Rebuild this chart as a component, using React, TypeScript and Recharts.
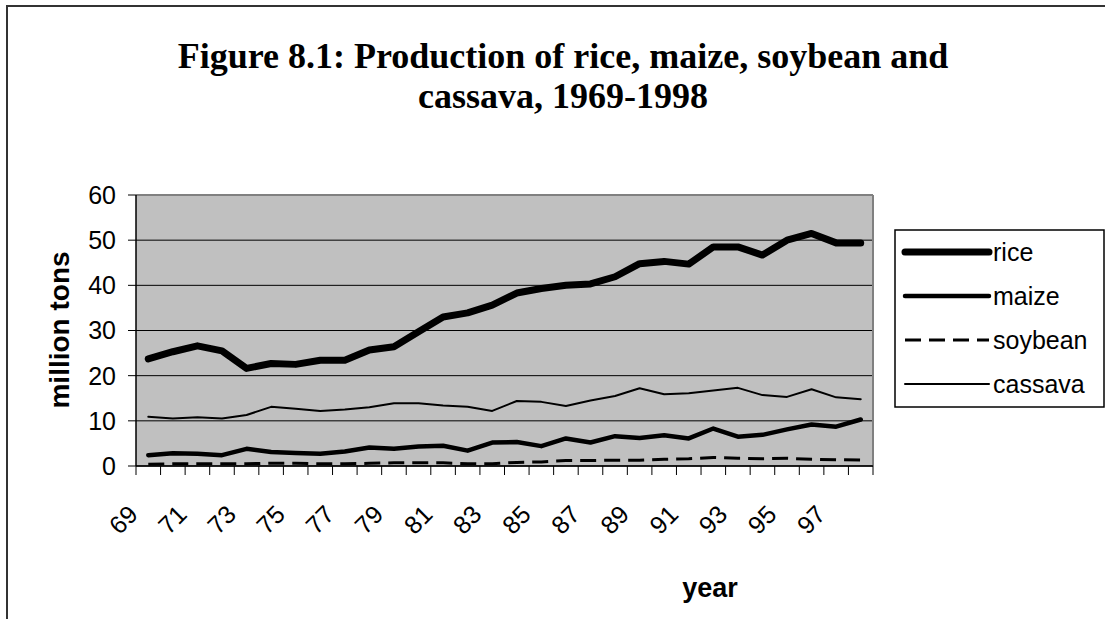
import React from 'react';
import {
  LineChart,
  Line,
  XAxis,
  YAxis,
  CartesianGrid,
  ReferenceLine,
} from 'recharts';

// production in million tons, 1969-1998
const years = [
  69, 70, 71, 72, 73, 74, 75, 76, 77, 78, 79, 80, 81, 82, 83,
  84, 85, 86, 87, 88, 89, 90, 91, 92, 93, 94, 95, 96, 97, 98,
];
const rice = [
  23.7, 25.3, 26.6, 25.5, 21.6, 22.7, 22.5, 23.4, 23.4, 25.7, 26.4, 29.7, 33.0, 33.9, 35.6,
  38.3, 39.3, 40.0, 40.3, 41.9, 44.8, 45.3, 44.7, 48.5, 48.5, 46.7, 50.0, 51.5, 49.4, 49.4,
];
const maize = [
  2.4, 2.8, 2.7, 2.4, 3.8, 3.1, 2.9, 2.7, 3.2, 4.1, 3.8, 4.3, 4.5, 3.4, 5.2,
  5.3, 4.4, 6.1, 5.2, 6.6, 6.2, 6.8, 6.1, 8.3, 6.5, 6.9, 8.1, 9.2, 8.7, 10.3,
];
const soybean = [
  0.4, 0.5, 0.5, 0.5, 0.5, 0.6, 0.6, 0.5, 0.5, 0.6, 0.7, 0.7, 0.7, 0.5, 0.5,
  0.8, 0.9, 1.2, 1.2, 1.3, 1.3, 1.5, 1.6, 1.9, 1.7, 1.6, 1.7, 1.5, 1.4, 1.3,
];
const cassava = [
  10.9, 10.5, 10.8, 10.5, 11.3, 13.1, 12.7, 12.2, 12.5, 13.0, 13.9, 13.9, 13.4, 13.1, 12.2,
  14.4, 14.2, 13.3, 14.5, 15.5, 17.2, 15.9, 16.1, 16.7, 17.3, 15.7, 15.3, 17.0, 15.2, 14.8,
];
const yTicks = [0, 10, 20, 30, 40, 50, 60];

const data = years.map((year, i) => ({
  year,
  rice: rice[i],
  maize: maize[i],
  soybean: soybean[i],
  cassava: cassava[i],
}));

// x ticks sit on the category boundaries, labels in the middle of each year
const xTicks = years.map((y) => y - 0.5).concat(years[years.length - 1] + 0.5);

const series = [
  { key: 'rice', width: 7, dash: undefined },
  { key: 'maize', width: 4.5, dash: undefined },
  { key: 'soybean', width: 3, dash: '16 8' },
  { key: 'cassava', width: 2, dash: undefined },
];

const W = 1105;
const H = 619;
const PLOT_LEFT = 136;
const PLOT_RIGHT = 873;
const HALF_BAND = (PLOT_RIGHT - PLOT_LEFT) / years.length / 2;
const font = '"Liberation Sans", Arial, sans-serif';
const serif = '"Liberation Serif", "Times New Roman", serif';

const YearTick = (props: any) => {
  const { x, y, payload } = props;
  const year = Math.round(payload.value + 0.5);
  if (year % 2 === 0 || year > 97) return null;
  const ax = x + HALF_BAND - 9;
  const ay = y + 39;
  return (
    <text
      x={ax}
      y={ay}
      transform={`rotate(-45 ${ax} ${ay})`}
      textAnchor="end"
      fontSize={25}
      fontFamily={font}
      fill="#000"
    >
      {String(year)}
    </text>
  );
};

const App = () => {
  return (
    <div style={{ position: 'absolute', left: 0, top: 0, width: W, height: H, background: '#fff', overflow: 'hidden' }}>
      <div
        style={{
          position: 'absolute',
          left: 6,
          top: 5,
          width: 1200,
          height: 700,
          borderLeft: '2px solid #333',
          borderTop: '2px solid #333',
        }}
      />
      <div style={{ position: 'absolute', left: 0, top: 0 }}>
        <LineChart
          width={W}
          height={H}
          data={data}
          margin={{ top: 195, right: W - PLOT_RIGHT, bottom: 73, left: 0 }}
        >
          <CartesianGrid
            vertical={false}
            stroke="#000"
            strokeWidth={1}
            fill="#c0c0c0"
            fillOpacity={1}
          />
          <XAxis
            dataKey="year"
            type="number"
            domain={[xTicks[0], xTicks[xTicks.length - 1]]}
            ticks={xTicks}
            interval={0}
            height={80}
            tickSize={9}
            axisLine={{ stroke: '#000', strokeWidth: 1.5 }}
            tickLine={{ stroke: '#000' }}
            tick={<YearTick />}
          />
          <YAxis
            type="number"
            domain={[0, 60]}
            ticks={yTicks}
            interval={0}
            width={PLOT_LEFT}
            tickSize={8}
            tickMargin={12}
            axisLine={{ stroke: '#000', strokeWidth: 1.5 }}
            tickLine={{ stroke: '#000' }}
            tick={{ fill: '#000', fontSize: 25, fontFamily: font }}
          />
          <ReferenceLine y={60} stroke="#808080" strokeWidth={2} />
          <ReferenceLine x={xTicks[xTicks.length - 1]} stroke="#808080" strokeWidth={2} />
          {series.map((s) => (
            <Line
              key={s.key}
              dataKey={s.key}
              type="linear"
              stroke="#000"
              strokeWidth={s.width}
              strokeDasharray={s.dash}
              strokeLinecap={s.dash ? 'butt' : 'round'}
              strokeLinejoin="round"
              dot={false}
              activeDot={false}
              isAnimationActive={false}
            />
          ))}
        </LineChart>
      </div>
      <svg
        width={W}
        height={H}
        style={{ position: 'absolute', left: 0, top: 0, pointerEvents: 'none' }}
      >
        <text x={563} y={68} textAnchor="middle" fontSize={36} fontWeight="bold" fontFamily={serif}>
          Figure 8.1: Production of rice, maize, soybean and
        </text>
        <text x={563} y={108} textAnchor="middle" fontSize={36} fontWeight="bold" fontFamily={serif}>
          cassava, 1969-1998
        </text>
        <text
          x={0}
          y={0}
          transform="translate(69 330) rotate(-90)"
          textAnchor="middle"
          fontSize={28}
          fontWeight="bold"
          fontFamily={font}
        >
          million tons
        </text>
        <text x={710} y={597} textAnchor="middle" fontSize={27} fontWeight="bold" fontFamily={font}>
          year
        </text>
        <rect x={895} y={230} width={209} height={177} fill="#fff" stroke="#000" strokeWidth={1.5} />
        {series.map((s, i) => {
          const ly = 252 + i * 44;
          return (
            <g key={s.key}>
              <line
                x1={905}
                x2={989}
                y1={ly}
                y2={ly}
                stroke="#000"
                strokeWidth={s.width}
                strokeDasharray={s.dash}
                strokeLinecap={s.dash ? 'butt' : 'round'}
              />
              <text x={993} y={ly + 9} fontSize={25} fontFamily={font}>
                {s.key}
              </text>
            </g>
          );
        })}
      </svg>
    </div>
  );
};

export default App;
